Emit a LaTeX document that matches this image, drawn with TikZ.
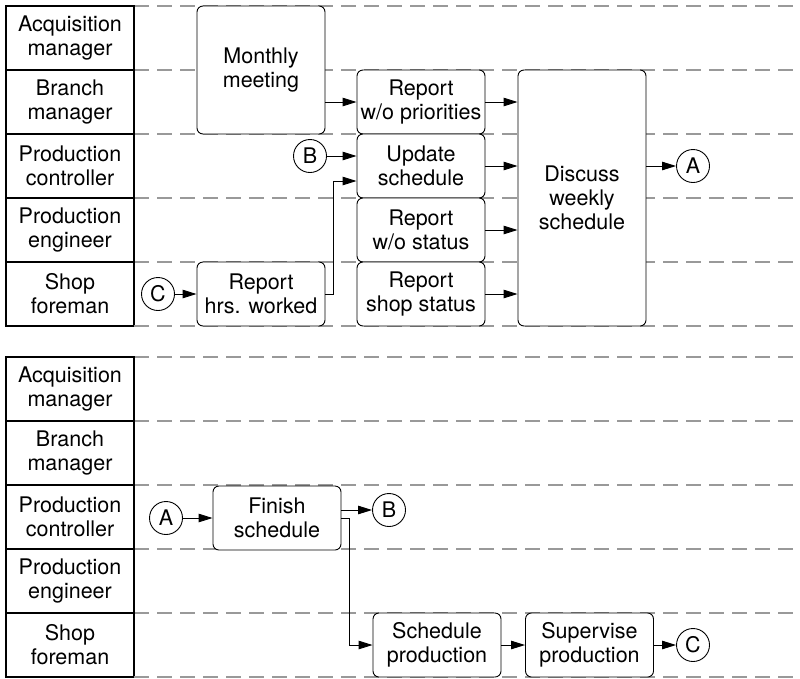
\documentclass[tikz,border=0pt]{standalone}
\usepackage{fontspec}
\setmainfont{TeX Gyre Heros}
\usetikzlibrary{arrows.meta}

\begin{document}
\begin{tikzpicture}[x=1pt, y=-1pt,
        font=\fontsize{21.5}{24}\selectfont,
        lane/.style={draw, line width=1.2pt, minimum width=128pt,
            minimum height=64pt, inner sep=0pt, align=center},
        task/.style={draw, fill=white, rounded corners=6pt, line width=0.9pt,
            minimum width=128pt, minimum height=64pt, inner sep=0pt,
            align=center},
        conn/.style={draw, fill=white, circle, minimum size=33pt,
            inner sep=0pt, line width=0.9pt},
        flow/.style={-{Triangle[length=14pt,width=8.5pt]}, line width=0.9pt},
        sep/.style={black!40, dash pattern=on 15pt off 8pt, line width=1.1pt}]

            \useasboundingbox (0,0) rectangle (800,678);

            % the two sets of swimlanes
            \foreach \top/\s in {6/a,357/b} {
                \foreach \who [count=\i from 0] in
                    {{Acquisition\\manager},{Branch\\manager},
                     {Production\\controller},{Production\\engineer},
                     {Shop\\foreman}} {
                        \draw[sep] (134,\top+64*\i) -- (800,\top+64*\i);
                        \node[lane] (lane-\s\i) at (70,\top+32+64*\i) {\who};
                    }
                \draw[sep] (134,\top+320) -- (800,\top+320);
            }

            % weekly part
            \node[task, minimum height=128pt] (meet) at (261,70)
                {Monthly\\meeting};
            \node[task] (prio) at (421,102) {Report\\w/o priorities};
            \node[task] (upd) at (421,166) {Update\\schedule};
            \node[task] (wost) at (421,230) {Report\\w/o status};
            \node[task] (shop) at (421,294) {Report\\shop status};
            \node[task] (hrs) at (261,294) {Report\\hrs. worked};
            \node[task, minimum height=256pt] (disc) at (582,198)
                {Discuss\\weekly\\schedule};
            \node[conn] (A) at (693,166) {A};
            \node[conn] (B) at (310,156) {B};
            \node[conn] (C) at (158,294) {C};
            \coordinate (upd-in) at ([yshift=-15pt]upd.west);

            \draw[flow] (meet.east |- prio.west) -- (prio.west);
            \draw[flow] (B) -- (B -| upd.west);
            \draw[flow] (C) -- (hrs);
            \draw[flow] (hrs.east) -- ++(8,0) |- (upd-in);
            \foreach \t in {prio,upd,wost,shop}
                \draw[flow] (\t) -- (\t -| disc.west);
            \draw[flow] (disc.east |- A) -- (A);

            % follow-up part
            \node[task] (fin) at (277,518) {Finish\\schedule};
            \node[task] (sched) at (437,645) {Schedule\\production};
            \node[task] (sup) at (589.5,645) {Supervise\\production};
            \node[conn] (A2) at (166,518) {A};
            \node[conn] (B2) at (389,510) {B};
            \node[conn] (C2) at (693,645) {C};

            \draw[flow] (A2) -- (fin);
            \draw[flow] (fin.east |- B2) -- (B2);
            \draw[flow] (fin.east) -- ++(8,0) |- (sched.west);
            \draw[flow] (sched) -- (sup);
            \draw[flow] (sup) -- (C2);

\end{tikzpicture}
\end{document}
